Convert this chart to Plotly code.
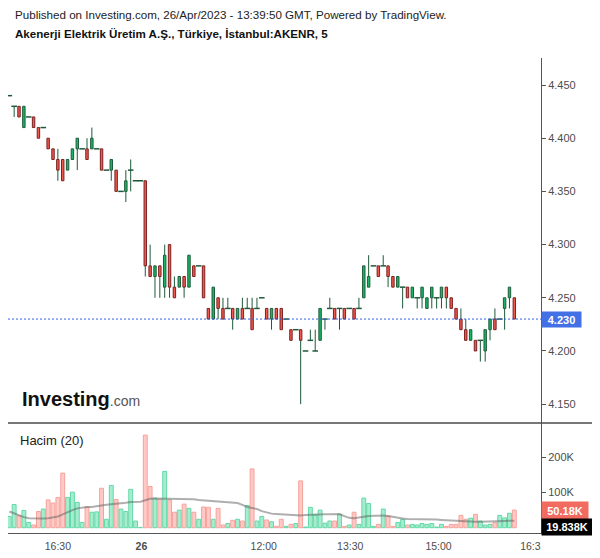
import plotly.graph_objects as go

# ---------------- data (5-minute bars, AKENR) ----------------
opens = [4.44, 4.43, 4.43, 4.41, 4.42, 4.42, 4.41, 4.41, 4.40, 4.39,
         4.38, 4.38, 4.37, 4.38, 4.39, 4.39, 4.39, 4.39, 4.39, 4.39,
         4.37, 4.37, 4.37, 4.35, 4.35, 4.37, 4.36, 4.36, 4.36, 4.28,
         4.27, 4.28, 4.26, 4.30, 4.26, 4.26, 4.27, 4.26, 4.28, 4.28,
         4.28, 4.24, 4.23, 4.25, 4.24, 4.24, 4.24, 4.23, 4.24, 4.24,
         4.24, 4.24, 4.25, 4.24, 4.23, 4.24, 4.24, 4.23, 4.22, 4.22,
         4.22, 4.20, 4.21, 4.20, 4.21, 4.23, 4.24, 4.24, 4.24, 4.24,
         4.24, 4.24, 4.24, 4.25, 4.26, 4.28, 4.28, 4.28, 4.28, 4.27,
         4.26, 4.26, 4.26, 4.25, 4.25, 4.25, 4.24, 4.25, 4.25, 4.25,
         4.26, 4.25, 4.24, 4.23, 4.22, 4.21, 4.21, 4.21, 4.20, 4.22,
         4.23, 4.23, 4.24, 4.25, 4.25]
highs = [4.44, 4.43, 4.43, 4.43, 4.42, 4.42, 4.41, 4.41, 4.40, 4.39,
         4.39, 4.38, 4.38, 4.39, 4.40, 4.39, 4.40, 4.41, 4.39, 4.39,
         4.37, 4.38, 4.37, 4.35, 4.37, 4.38, 4.36, 4.36, 4.36, 4.30,
         4.28, 4.28, 4.30, 4.30, 4.27, 4.27, 4.27, 4.29, 4.28, 4.28,
         4.28, 4.24, 4.26, 4.25, 4.25, 4.25, 4.24, 4.24, 4.25, 4.25,
         4.25, 4.25, 4.25, 4.24, 4.24, 4.24, 4.24, 4.23, 4.22, 4.22,
         4.22, 4.20, 4.22, 4.22, 4.24, 4.23, 4.25, 4.24, 4.24, 4.24,
         4.24, 4.24, 4.25, 4.28, 4.29, 4.28, 4.28, 4.29, 4.28, 4.27,
         4.27, 4.26, 4.26, 4.26, 4.25, 4.26, 4.25, 4.26, 4.25, 4.26,
         4.26, 4.25, 4.24, 4.24, 4.23, 4.22, 4.21, 4.21, 4.22, 4.23,
         4.24, 4.23, 4.25, 4.26, 4.25]
lows = [4.44, 4.42, 4.42, 4.41, 4.42, 4.41, 4.40, 4.41, 4.39, 4.38,
        4.36, 4.36, 4.37, 4.38, 4.37, 4.39, 4.38, 4.39, 4.39, 4.37,
        4.37, 4.36, 4.35, 4.35, 4.34, 4.35, 4.36, 4.36, 4.27, 4.27,
        4.25, 4.25, 4.25, 4.25, 4.25, 4.26, 4.25, 4.26, 4.27, 4.28,
        4.25, 4.23, 4.23, 4.23, 4.23, 4.24, 4.22, 4.23, 4.23, 4.24,
        4.22, 4.24, 4.25, 4.23, 4.22, 4.23, 4.22, 4.23, 4.21, 4.22,
        4.15, 4.20, 4.21, 4.20, 4.21, 4.22, 4.24, 4.23, 4.22, 4.23,
        4.24, 4.23, 4.24, 4.25, 4.26, 4.28, 4.27, 4.28, 4.26, 4.26,
        4.26, 4.24, 4.25, 4.25, 4.24, 4.24, 4.24, 4.24, 4.24, 4.24,
        4.24, 4.24, 4.23, 4.22, 4.21, 4.21, 4.20, 4.19, 4.19, 4.21,
        4.22, 4.23, 4.22, 4.24, 4.23]
closes = [4.44, 4.43, 4.42, 4.43, 4.42, 4.41, 4.40, 4.41, 4.39, 4.38,
          4.37, 4.36, 4.38, 4.39, 4.40, 4.39, 4.38, 4.40, 4.39, 4.37,
          4.37, 4.38, 4.35, 4.35, 4.36, 4.37, 4.36, 4.36, 4.28, 4.27,
          4.28, 4.27, 4.29, 4.26, 4.25, 4.27, 4.26, 4.29, 4.27, 4.28,
          4.25, 4.23, 4.26, 4.24, 4.23, 4.24, 4.23, 4.24, 4.23, 4.24,
          4.22, 4.24, 4.25, 4.23, 4.24, 4.23, 4.22, 4.23, 4.21, 4.22,
          4.21, 4.20, 4.21, 4.20, 4.24, 4.23, 4.24, 4.23, 4.24, 4.23,
          4.24, 4.23, 4.24, 4.28, 4.27, 4.28, 4.27, 4.28, 4.27, 4.26,
          4.27, 4.26, 4.25, 4.26, 4.25, 4.26, 4.25, 4.26, 4.25, 4.26,
          4.25, 4.24, 4.23, 4.22, 4.21, 4.22, 4.20, 4.21, 4.22, 4.23,
          4.22, 4.23, 4.25, 4.26, 4.23]
volumes = [32000, 66000, 34000, 49000, 15000, 7600, 46000, 53000, 79000, 70000,
           86000, 155000, 86000, 101000, 72000, 15000, 59000, 44000, 45000, 112000,
           24000, 120000, 80000, 53000, 46000, 109000, 19000, 1000, 263000, 117000,
           84000, 81000, 160000, 79000, 44000, 50000, 67000, 55000, 44000, 24000,
           59000, 58000, 24000, 55000, 7600, 12000, 21000, 24000, 19000, 63000,
           167000, 19000, 32000, 22000, 17000, 3800, 24000, 3800, 9500, 12000,
           133000, 2000, 58000, 37000, 50000, 13000, 19000, 19000, 38000, 3800,
           7600, 44000, 9500, 84000, 69000, 3800, 9500, 53000, 33000, 3800,
           15000, 24000, 7600, 9500, 7600, 12000, 9500, 12000, 2000, 9500,
           3800, 9500, 9500, 35000, 24000, 27000, 38000, 19000, 7600, 9500,
           14000, 35000, 28000, 41000, 50180]
vol_ma20 = [46000, 40000, 34000, 30000, 27000, 26000, 26000, 26000, 27000, 29000,
            32000, 38000, 45000, 50000, 55000, 58000, 59000, 59000, 60000, 63000,
            65000, 66000, 67000, 69000, 71000, 73000, 73000, 74000, 78000, 82000,
            83000, 83000, 83000, 83000, 83000, 83000, 83000, 83000, 81000, 79000,
            78000, 77000, 76000, 75000, 74000, 73000, 71000, 70000, 65000, 59000,
            56000, 53000, 47000, 43000, 40000, 39000, 38000, 37000, 36000, 36000,
            35000, 36000, 37000, 38000, 38000, 38000, 38000, 39000, 39000, 33000,
            28000, 27000, 28000, 31000, 33000, 34000, 35000, 35000, 33000, 30000,
            28000, 26000, 25000, 25000, 24000, 24000, 24000, 23000, 23000, 22000,
            21000, 20000, 20000, 19000, 18000, 17500, 17000, 17000, 17000, 17000,
            17000, 18000, 19000, 19500, 19838]
x_tick_labels = ["16:30", "<b>26</b>", "12:00", "13:30", "15:00", "16:3"]
price_ticks = [4.15, 4.20, 4.25, 4.30, 4.35, 4.40, 4.45]
vol_ticks = [100000, 200000]
vol_tick_labels = ["100K", "200K"]
last_price = 4.23
last_volume = 50180
last_vol_ma = 19838

# ---------------- styling ----------------
FONT = "Liberation Sans, Arial, sans-serif"
PAGE_OFF = 8              # default body margin of the html page
W, H = 600 - PAGE_OFF, 558 - PAGE_OFF
ML, MR, MT, MB = 0, 59, 50, 25
PW, PH = W - ML - MR, H - MT - MB
split = 110 / PH  # volume pane height share

GREEN_FILL, GREEN_EDGE = "#1cb464", "#1d5c3b"
RED_FILL, RED_EDGE = "#ef5a50", "#7c1f1f"
WICK = "#1e5a3a"
VG_FILL, VG_EDGE = "#a8ecd0", "#62d9a6"
VR_FILL, VR_EDGE = "#ffcac6", "#f6a29c"

n = len(opens)
idx = list(range(n))

def px_x(x):  # page pixel -> paper
    return (x - PAGE_OFF - ML) / PW

def px_y(y):
    return (H - MB - (y - PAGE_OFF)) / PH

# bodies
body_base, body_h, body_fill, body_edge = [], [], [], []
for o, c in zip(opens, closes):
    if abs(c - o) < 1e-9:
        body_base.append(None); body_h.append(None)
    else:
        body_base.append(min(o, c)); body_h.append(abs(c - o))
    up = c >= o
    body_fill.append(GREEN_FILL if up else RED_FILL)
    body_edge.append(GREEN_EDGE if up else RED_EDGE)

# wicks
wx, wy = [], []
for i, (o, h, l, c) in enumerate(zip(opens, highs, lows, closes)):
    top, bot = max(o, c), min(o, c)
    if h > top + 1e-9:
        wx += [i, i, None]; wy += [top, h, None]
    if l < bot - 1e-9:
        wx += [i, i, None]; wy += [l, bot, None]

doji_x = [i for i in idx if abs(closes[i] - opens[i]) < 1e-9]
doji_y = [opens[i] for i in doji_x]

vol_fill = [VG_FILL if c >= o else VR_FILL for o, c in zip(opens, closes)]
vol_edge = [VG_EDGE if c >= o else VR_EDGE for o, c in zip(opens, closes)]

fig = go.Figure()
fig.add_trace(go.Bar(x=idx, y=volumes, width=0.8, xaxis="x", yaxis="y2",
                     marker=dict(color=vol_fill, line=dict(color=vol_edge, width=1)),
                     hoverinfo="skip"))
fig.add_trace(go.Scatter(x=idx, y=vol_ma20, mode="lines", xaxis="x", yaxis="y2",
                         line=dict(color="rgba(95,95,95,0.5)", width=2), hoverinfo="skip"))
fig.add_trace(go.Bar(x=idx, y=body_h, base=body_base, width=0.5, xaxis="x", yaxis="y",
                     marker=dict(color=body_fill, line=dict(color=body_edge, width=1)),
                     hoverinfo="skip"))
fig.add_trace(go.Scatter(x=wx, y=wy, mode="lines", xaxis="x", yaxis="y",
                         line=dict(color=WICK, width=1), hoverinfo="skip"))
fig.add_trace(go.Scatter(x=doji_x, y=doji_y, mode="markers", xaxis="x", yaxis="y",
                         marker=dict(symbol="line-ew", size=4,
                                     line=dict(color=WICK, width=1.5)),
                         hoverinfo="skip"))

x_left = (8 - 9.3) / 4.856
x_right = (541 - 9.3) / 4.856

fig.update_layout(
    width=W, height=H, margin=dict(l=ML, r=MR, t=MT, b=MB),
    paper_bgcolor="white", plot_bgcolor="white", showlegend=False,
    barmode="overlay", hovermode=False,
    font=dict(family=FONT, color="#333"),
    xaxis=dict(range=[x_left, x_right], anchor="y2", showgrid=False, zeroline=False,
               showline=True, linecolor="#555", linewidth=1,
               tickvals=[10, 27.2, 52.4, 70.2, 88.4, 107.3], ticktext=x_tick_labels,
               ticks="outside", ticklen=3, tickcolor="rgba(0,0,0,0)",
               tickfont=dict(size=10.5, color="#4d4d4d", family=FONT)),
    yaxis=dict(domain=[split, 1], range=[4.1323, 4.4754], side="right",
               showgrid=False, zeroline=False, showline=True, linecolor="#555",
               linewidth=1, ticks="outside", ticklen=4, tickcolor="#555",
               tickvals=price_ticks, tickformat=".3f",
               tickfont=dict(size=11, color="#4d4d4d", family=FONT)),
    yaxis2=dict(domain=[0, split], range=[-15000, 297400], side="right",
                showgrid=False, zeroline=False, showline=True, linecolor="#555",
                linewidth=1, ticks="outside", ticklen=4, tickcolor="#555",
                tickvals=vol_ticks, ticktext=vol_tick_labels,
                tickfont=dict(size=11, color="#4d4d4d", family=FONT)),
)

# last price dotted line
fig.add_shape(type="line", xref="paper", yref="y", x0=0, x1=1, y0=last_price, y1=last_price,
              line=dict(color="#2f62ee", width=1, dash="2px,2px"))
# pane separator
fig.add_shape(type="line", xref="paper", yref="paper", x0=0, x1=px_x(593),
              y0=split, y1=split, line=dict(color="#4a4a4a", width=1.5))

# texts
fig.add_annotation(xref="paper", yref="paper", x=px_x(13), y=px_y(15), xanchor="left",
                   yanchor="middle", showarrow=False,
                   text="Published on Investing.com, 26/Apr/2023 - 13:39:50 GMT, Powered by TradingView.",
                   font=dict(size=11.6, color="#222", family=FONT))
fig.add_annotation(xref="paper", yref="paper", x=px_x(13), y=px_y(33), xanchor="left",
                   yanchor="middle", showarrow=False,
                   text="<b>Akenerji Elektrik Üretim A.Ş., Türkiye, İstanbul:AKENR, 5</b>",
                   font=dict(size=11.6, color="#111", family=FONT))
fig.add_annotation(xref="paper", yref="paper", x=px_x(18), y=px_y(440), xanchor="left",
                   yanchor="middle", showarrow=False, text="Hacim (20)",
                   font=dict(size=13, color="#222", family=FONT))
fig.add_annotation(xref="paper", yref="paper", x=px_x(20), y=px_y(399), xanchor="left",
                   yanchor="middle", showarrow=False,
                   text="<b>Investing</b><span style='font-size:14px;color:#555'>.com</span>",
                   font=dict(size=20, color="#111", family=FONT))

# axis value labels
fig.add_annotation(xref="paper", yref="y", x=1, y=last_price, xanchor="left", yanchor="middle",
                   showarrow=False, text="<b>%.3f</b>" % last_price, bgcolor="#4470e6",
                   width=35, height=11, borderpad=2,
                   font=dict(size=11, color="white", family=FONT))
fig.add_annotation(xref="paper", yref="y2", x=1, y=last_volume, xanchor="left", yanchor="middle",
                   showarrow=False, text="<b>%.2fK</b>" % (last_volume / 1000), bgcolor="#f26b60",
                   width=42, height=13, borderpad=2,
                   font=dict(size=11, color="white", family=FONT))
fig.add_annotation(xref="paper", yref="y2", x=1, y=last_volume, xanchor="left", yanchor="middle",
                   yshift=-17, showarrow=False, text="<b>%.3fK</b>" % (last_vol_ma / 1000),
                   bgcolor="#000000", width=46, height=12, borderpad=2,
                   font=dict(size=11, color="white", family=FONT))

fig.write_html("out.html")
